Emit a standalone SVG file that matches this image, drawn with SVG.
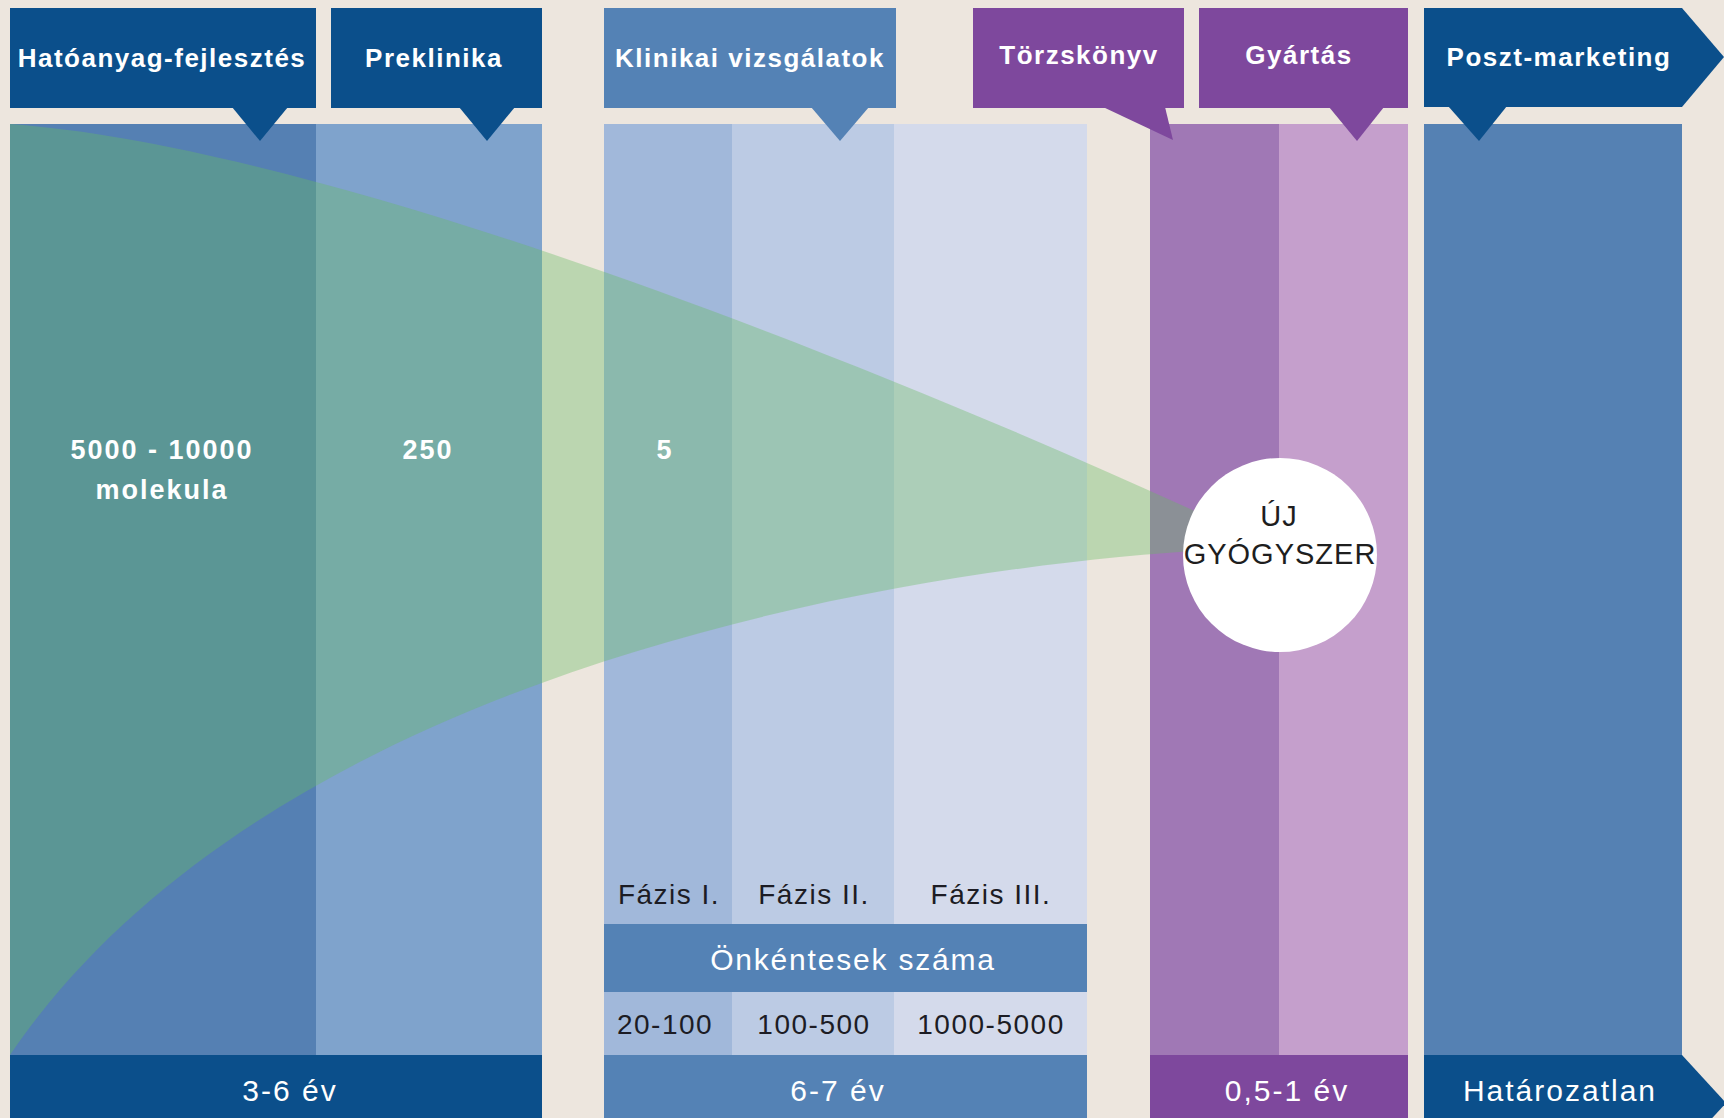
<svg xmlns="http://www.w3.org/2000/svg" width="1724" height="1118" viewBox="0 0 1724 1118">
<style>
.hdr{font-family:"Liberation Sans",Arial,sans-serif;font-weight:bold;font-size:26px;letter-spacing:1.5px;fill:#ffffff;text-anchor:middle}
.big{font-family:"Liberation Sans",Arial,sans-serif;font-weight:bold;font-size:27px;letter-spacing:2px;fill:#ffffff;text-anchor:middle}
.ph{font-family:"Liberation Sans",Arial,sans-serif;font-size:28px;letter-spacing:1.5px;fill:#1c1c24;text-anchor:middle}
.bar{font-family:"Liberation Sans",Arial,sans-serif;font-size:30px;letter-spacing:2px;fill:#ffffff;text-anchor:middle}
.circ{font-family:"Liberation Sans",Arial,sans-serif;font-size:29px;letter-spacing:1px;fill:#1e1e1e;text-anchor:middle}
.dark{fill:#0b4f8b}
.mid{fill:#5482b5}
.pur{fill:#7e489d}
</style>
<rect x="0" y="0" width="1724" height="1118" fill="#ede6de"/>

<g id="columns">
<rect x="10" y="124" width="306" height="931" fill="#5580b3"/>
<rect x="316" y="124" width="226" height="931" fill="#7fa3cc"/>
<rect x="604" y="124" width="128" height="931" fill="#a1b8da"/>
<rect x="732" y="124" width="162" height="931" fill="#bccbe4"/>
<rect x="894" y="124" width="193" height="931" fill="#d4daeb"/>
<rect x="1150" y="124" width="129" height="931" fill="#a078b5"/>
<rect x="1279" y="124" width="129" height="931" fill="#c59fcc"/>
<rect x="1424" y="124" width="258" height="931" fill="#5581b3"/>
</g>

<g id="funnel">
<path d="M10,124 C300,145 800,330 1210,518 L1210,550 C900,568 270,672 10,1055 Z" fill="#68bc63" fill-opacity="0.37"/>
</g>

<g id="node-uj-gyogyszer">
<circle cx="1280" cy="555" r="97" fill="#ffffff"/>
<text class="circ" x="1279" y="526">ÚJ</text>
<text class="circ" x="1280" y="564">GYÓGYSZER</text>
</g>

<g id="header-hatoanyag">
<rect class="dark" x="10" y="8" width="306" height="100"/>
<polygon class="dark" points="232,107 288,107 260,141"/>
<text class="hdr" x="162" y="67">Hatóanyag-fejlesztés</text>
</g>
<g id="header-preklinika">
<rect class="dark" x="331" y="8" width="211" height="100"/>
<polygon class="dark" points="459,107 515,107 487,141"/>
<text class="hdr" x="434" y="67">Preklinika</text>
</g>
<g id="header-klinikai">
<rect class="mid" x="604" y="8" width="292" height="100"/>
<polygon class="mid" points="811,107 869,107 840,141"/>
<text class="hdr" x="750" y="67">Klinikai vizsgálatok</text>
</g>
<g id="header-torzskonyv">
<rect class="pur" x="973" y="8" width="211" height="100"/>
<polygon class="pur" points="1103,107 1165,107 1173,140"/>
<text class="hdr" x="1079" y="64">Törzskönyv</text>
</g>
<g id="header-gyartas">
<rect class="pur" x="1199" y="8" width="209" height="100"/>
<polygon class="pur" points="1329,107 1384,107 1357,141"/>
<text class="hdr" x="1299" y="64">Gyártás</text>
</g>
<g id="header-poszt">
<polygon class="dark" points="1424,8 1682,8 1724,57 1682,107 1424,107"/>
<polygon class="dark" points="1448,106 1507,106 1479,141"/>
<text class="hdr" x="1559" y="66">Poszt-marketing</text>
</g>

<g id="counts">
<text class="big" x="162" y="459">5000 - 10000</text>
<text class="big" x="162" y="499">molekula</text>
<text class="big" x="428" y="459">250</text>
<text class="big" x="665" y="459">5</text>
</g>

<g id="phases">
<text class="ph" x="669" y="904">Fázis I.</text>
<text class="ph" x="814" y="904">Fázis II.</text>
<text class="ph" x="991" y="904">Fázis III.</text>
<rect class="mid" x="604" y="924" width="483" height="68"/>
<text class="bar" x="853" y="970" style="letter-spacing:1.8px">Önkéntesek száma</text>
<text class="ph" x="665" y="1034">20-100</text>
<text class="ph" x="814" y="1034">100-500</text>
<text class="ph" x="991" y="1034">1000-5000</text>
</g>

<g id="durations">
<rect class="dark" x="10" y="1055" width="532" height="63"/>
<text class="bar" x="290" y="1101">3-6 év</text>
<rect class="mid" x="604" y="1055" width="483" height="63"/>
<text class="bar" x="838" y="1101">6-7 év</text>
<rect class="pur" x="1150" y="1055" width="258" height="63"/>
<text class="bar" x="1287" y="1101">0,5-1 év</text>
<polygon class="dark" points="1424,1055 1682,1055 1726,1103 1682,1151 1424,1151"/>
<text class="bar" x="1560" y="1101">Határozatlan</text>
</g>
</svg>
